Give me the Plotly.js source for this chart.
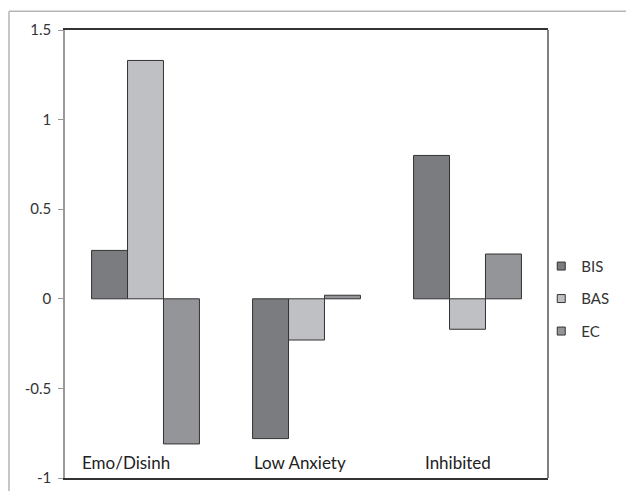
<!DOCTYPE html>
<html>
<head>
<meta charset="utf-8">
<script src="https://cdn.plot.ly/plotly-3.0.1.min.js"></script>
<style>
html,body{margin:0;padding:0;background:#fff;}
#chart{width:626px;height:491px;}
</style>
</head>
<body>
<div id="chart"></div>
<script>
const categories = ["Emo/Disinh", "Low Anxiety", "Inhibited"];
const seriesNames = ["BIS", "BAS", "EC"];
const bisValues = [0.27, -0.78, 0.80];
const basValues = [1.33, -0.23, -0.17];
const ecValues = [-0.81, 0.02, 0.25];
const yTickValues = [-1, -0.5, 0, 0.5, 1, 1.5];
const yTickLabels = ["-1", "-0.5", "0", "0.5", "1", "1.5"];

const fontFamily = "Lato, 'Open Sans', sans-serif";
const outline = {color: "#333333", width: 1};
const seriesColors = ["#7b7c80", "#bfc0c3", "#949598"];
const seriesValues = [bisValues, basValues, ecValues];

const data = [];
seriesNames.forEach((name, i) => {
  data.push({
    type: "bar",
    name: name,
    x: categories,
    y: seriesValues[i],
    showlegend: false,
    marker: {color: seriesColors[i], line: outline},
    hoverinfo: "x+y+name"
  });
});
// legend entries with small square swatches
seriesNames.forEach((name, i) => {
  data.push({
    type: "scatter", mode: "markers",
    name: name, legendgroup: name,
    x: [null], y: [null],
    marker: {symbol: "square", size: 8, color: seriesColors[i], line: {color: "#333", width: 1}},
    hoverinfo: "skip"
  });
});

const labelShift = [-20, -7, -10];
const annotations = categories.map((c, i) => ({
  x: c, y: -0.915, xref: "x", yref: "y",
  text: c, showarrow: false, xshift: labelShift[i],
  font: {family: fontFamily, size: 17, color: "#222"}
}));

const layout = {
  width: 626, height: 491,
  margin: {l: 65, r: 78, t: 30, b: 13, autoexpand: false},
  paper_bgcolor: "#fff", plot_bgcolor: "#fff",
  barmode: "group", bargap: 0.33, bargroupgap: 0,
  font: {family: fontFamily, size: 15, color: "#333"},
  xaxis: {
    showticklabels: false, ticks: "", showgrid: false, zeroline: false,
    showline: true, mirror: true, linecolor: "#333", linewidth: 1.5
  },
  yaxis: {
    range: [-1, 1.5], tickvals: yTickValues, ticktext: yTickLabels,
    showgrid: false, zeroline: false,
    showline: true, linecolor: "#999", linewidth: 1.5,
    ticks: "outside", ticklen: 5, tickcolor: "#999",
    ticklabelstandoff: 4,
    tickfont: {family: fontFamily, size: 15, color: "#333"}
  },
  legend: {
    x: 0.986, y: 0.40, xanchor: "left", yanchor: "middle",
    traceorder: "grouped", tracegroupgap: 10, itemwidth: 30,
    font: {family: fontFamily, size: 15, color: "#333"},
    bgcolor: "rgba(0,0,0,0)"
  },
  annotations: annotations,
  shapes: [
    {type: "line", xref: "paper", yref: "paper", x0: 1, x1: 1, y0: 0, y1: 1,
     line: {color: "#555", width: 1.5}},
    {type: "line", xref: "paper", yref: "paper", x0: -0.116, x1: -0.116, y0: -0.1, y1: 1.042,
     line: {color: "#b5b5b5", width: 1.5}},
    {type: "line", xref: "paper", yref: "paper", x0: -0.116, x1: 1.3, y0: 1.042, y1: 1.042,
     line: {color: "#b5b5b5", width: 1.5}}
  ]
};

Plotly.newPlot("chart", data, layout, {displayModeBar: false, responsive: false});
</script>
</body>
</html>
